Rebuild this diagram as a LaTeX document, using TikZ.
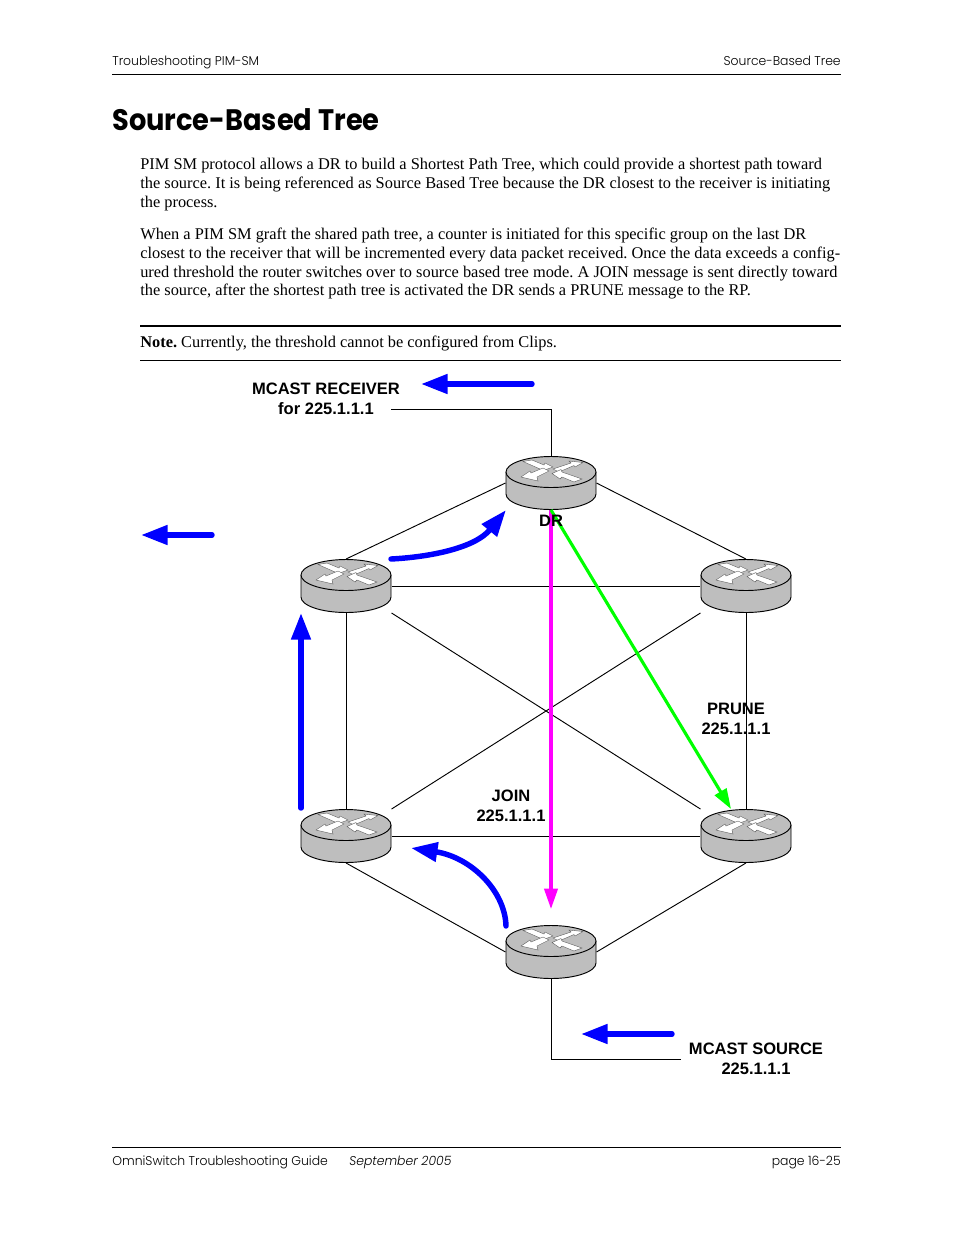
\documentclass[tikz,border=0pt]{standalone}
\usepackage{fontspec}
\setmainfont{Liberation Serif}
\setsansfont{Liberation Sans}
\newfontfamily\titlefont[FakeStretch=.92]{Poppins}
\newfontfamily\headfont[FakeStretch=.97]{Poppins Light}
\usetikzlibrary{arrows.meta}
\definecolor{routerGray}{HTML}{BEBEBE}
\definecolor{flowBlue}{HTML}{0000FF}
\definecolor{joinPink}{HTML}{FF00FF}
\definecolor{pruneGreen}{HTML}{00FF00}
\begin{document}
\frenchspacing
\begin{tikzpicture}[x=.6415pt,y=-.6415pt,
  routerbox/.style={minimum width=58.4pt,minimum height=34.6pt,inner sep=0pt,outer sep=0pt},
  routertop/.style={draw=black,fill=routerGray,line width=.6pt},
  routerarrow/.style={fill=white,draw=black!65,line width=.25pt},
  link/.style={draw=black,line width=.6pt},
  flow/.style={-{Triangle[length=17pt,width=12pt]},flowBlue,line width=3.5pt,line cap=round},
  lab/.style={font=\sffamily\bfseries\fontsize{10.6}{12.9}\selectfont,align=center,inner sep=0pt},
  body/.style={font=\fontsize{10.5}{12}\selectfont,align=left,anchor=north west,inner sep=0pt},
  head/.style={font=\headfont\fontsize{8.2}{10}\selectfont,inner sep=0pt}
]
  \useasboundingbox (0,0) rectangle (954,1235);
  \fill[white] (0,0) rectangle (954,1235);
  % page text
  \node[head,anchor=base west] (headl) at (112,65) {Troubleshooting PIM-SM};
  \node[head,anchor=base east] (headr) at (841,65) {Source-Based Tree};
  \draw[line width=.6pt] (112,74.5) -- (841,74.5);
  \node[font=\titlefont\bfseries\fontsize{19}{22}\selectfont,anchor=base west,inner sep=0pt] (title) at (112,130) {Source-Based Tree};
  \node[body] (para1) at (140,158) {PIM SM protocol allows a DR to build a Shortest Path Tree, which could provide a shortest path toward\\
the source. It is being referenced as Source Based Tree because the DR closest to the receiver is initiating\\
the process.};
  \node[body] (para2) at (140,228) {When a PIM SM graft the shared path tree, a counter is initiated for this specific group on the last DR\\
closest to the receiver that will be incremented every data packet received. Once the data exceeds a config-\\
ured threshold the router switches over to source based tree mode. A JOIN message is sent directly toward\\
the source, after the shortest path tree is activated the DR sends a PRUNE message to the RP.};
  \draw[line width=1.3pt] (140,326) -- (841,326);
  \node[body] (note) at (140,336) {\textbf{Note.} Currently, the threshold cannot be configured from Clips.};
  \draw[line width=.6pt] (140,360.5) -- (841,360.5);
  \draw[line width=.6pt] (112,1147.5) -- (841,1147.5);
  \node[head,anchor=base west] (footl) at (112,1165) {OmniSwitch Troubleshooting Guide};
  \node[head,anchor=base west] (footm) at (349,1165) {\itshape September 2005};
  \node[head,anchor=base east] (footr) at (841,1165) {page 16-25};
  % routers
  \foreach \name/\x/\y in {dr/551/483,lt/346/586,rt/746/586,lb/346/836,rb/746/836,bot/551/952}{
    \begin{scope}[shift={(\x,\y)}]
      \draw[routertop] (-45,-11) -- (-45,11) arc[start angle=180,end angle=0,x radius=45,y radius=15.5] -- (45,-11);
      \draw[routertop] (0,-11) ellipse[x radius=45,y radius=15.5];
      \begin{scope}[shift={(0,-11)}]
        \filldraw[routerarrow] (2,-3) -- (20,-9) -- (18,-11) -- (32,-9.5) -- (24,-5) -- (23,-6.5) -- (8,0) -- cycle;
        \filldraw[routerarrow] (-28,-10.5) -- (-19,-12) -- (-7,-7) -- (-6,-9) -- (2,-5) -- (-9,-1) -- (-11,-3) -- cycle;
        \filldraw[routerarrow] (-30,5) -- (-21,-1) -- (-20,1) -- (-8,-4) -- (-2,-1) -- (-14,5) -- (-13,9) -- cycle;
        \filldraw[routerarrow] (1,1.5) -- (10,-2.5) -- (11,0) -- (31,7) -- (23,10) -- (11,5) -- (9,7) -- cycle;
      \end{scope}
      \node[routerbox] (\name) at (0,0) {};
    \end{scope}
  }
  % links
  \draw[link] (dr.west) -- (lt.north);
  \draw[link] (dr.east) -- (rt.north);
  \draw[link] (lt.east) -- (rt.west);
  \draw[link] (lt.south) -- (lb.north);
  \draw[link] (rt.south) -- (rb.north);
  \draw[link] (lt.south east) -- (rb.north west);
  \draw[link] (rt.south west) -- (lb.north east);
  \draw[link] (lb.east) -- (rb.west);
  \draw[link] (lb.south) -- (bot.west);
  \draw[link] (rb.south) -- (bot.east);
  % labels
  \node[lab] (recv) at (326,399) {MCAST RECEIVER\\for 225.1.1.1};
  \coordinate (recvend) at (391,409.5);
  \draw[link] (dr.north) |- (recvend);
  \node[lab] (src) at (756,1059) {MCAST SOURCE\\225.1.1.1};
  \coordinate (srcend) at (681,1059.5);
  \draw[link] (bot.south) |- (srcend);
  % multicast flows
  \coordinate (joinend) at (551,909);
  \coordinate (pruneend) at (731,809);
  \draw[-{Triangle[length=13pt,width=8.5pt]},joinPink,line width=2pt] (dr.south) -- (joinend);
  \draw[-{Triangle[length=13pt,width=8.5pt]},pruneGreen,line width=2pt] (dr.south) -- (pruneend);
  \node[lab] (drlab) at (551,520.5) {DR};
  \node[lab] (prune) at (736,718.5) {PRUNE\\225.1.1.1};
  \node[lab] (join) at (511,805.5) {JOIN\\225.1.1.1};
  \coordinate (ra) at (532,384); \coordinate (rc) at (421,384);
  \coordinate (la) at (212,535); \coordinate (lc) at (141,535);
  \coordinate (sa) at (672,1034); \coordinate (sc) at (581,1034);
  \coordinate (ua) at (301,808); \coordinate (uc) at (301,613);
  \coordinate (ca) at (391,559); \coordinate (cc) at (506,510);
  \coordinate (da) at (506,926); \coordinate (dc) at (411,848);
  \draw[flow] (ra) -- (rc);
  \draw[flow] (la) -- (lc);
  \draw[flow] (sa) -- (sc);
  \draw[flow] (ua) -- (uc);
  \draw[flow] (ca) .. controls (430,557) and (475,548) .. (cc);
  \draw[flow] (da) .. controls (505,890) and (470,857) .. (dc);
\end{tikzpicture}
\end{document}
